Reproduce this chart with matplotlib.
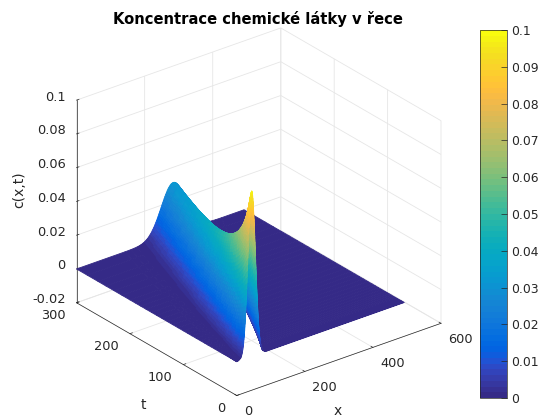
import numpy as np
import matplotlib
matplotlib.use("Agg")
import matplotlib.pyplot as plt
from matplotlib.colors import ListedColormap, Normalize
from matplotlib.cm import ScalarMappable
from mpl_toolkits.mplot3d import proj3d

# values: one row per time
t_rows = [0, 1, 2, 3, 4, 5, 6, 8, 10, 12, 14, 17, 20, 24, 28, 32, 36, 42, 48, 54, 60, 68, 76, 84, 92,
          100, 110, 120, 130, 140, 150, 160, 170, 180, 190, 200, 215, 230, 245, 260, 280, 300]
ridge_x = [44, 44.8, 45.6, 46.4, 47.2, 48, 48.8, 50.4, 52, 53.6, 55.2, 57.6, 60, 63.2, 66.4, 69.6, 72.8,
           77.6, 82.4, 87.2, 92, 98.4, 104.8, 111.2, 117.6, 124, 132, 140, 148, 156, 164, 172, 180, 188,
           196, 204, 216, 228, 240, 252, 268, 284]
ridge_c = [0.098, 0.097, 0.096, 0.095, 0.094, 0.093, 0.0918, 0.0894, 0.0873, 0.0853, 0.0834, 0.0808,
           0.0784, 0.0756, 0.073, 0.0707, 0.0686, 0.0658, 0.0632, 0.061, 0.059, 0.0566, 0.0544, 0.0525,
           0.0508, 0.0492, 0.0475, 0.0459, 0.0444, 0.0431, 0.0419, 0.0408, 0.0398, 0.0389, 0.038, 0.0371,
           0.036, 0.035, 0.034, 0.0331, 0.032, 0.031]
ridge_w = [11, 11.2, 11.3, 11.5, 11.7, 11.8, 12, 12.3, 12.6, 12.9, 13.2, 13.6, 14, 14.6, 15.1, 15.6, 16,
           16.7, 17.4, 18, 18.7, 19.4, 20.2, 20.9, 21.7, 22.3, 23.2, 24, 24.8, 25.5, 26.2, 26.9, 27.6,
           28.3, 29, 29.6, 30.6, 31.5, 32.4, 33.2, 34.3, 35.4]

# half of the pulse profile, in widths from the crest
half_off = [0, 0.0625, 0.125, 0.1875, 0.25, 0.3125, 0.375, 0.4375, 0.5, 0.5625, 0.625, 0.6875, 0.75,
            0.8125, 0.875, 0.9375, 1, 1.0625, 1.125, 1.1875, 1.25, 1.3125, 1.375, 1.4375, 1.5, 1.5625,
            1.625, 1.6875, 1.75, 1.8125, 1.875, 1.9375, 2, 2.0625, 2.125, 2.1875, 2.25, 2.3125, 2.375,
            2.4375, 2.5, 2.5625, 2.625, 2.6875, 2.75, 2.8125, 2.875, 2.9375, 3, 3.5, 4]
half_c = [1, 0.998, 0.9922, 0.9826, 0.9692, 0.9523, 0.9321, 0.9087, 0.8825, 0.8537, 0.8226, 0.7895, 0.7548,
          0.7188, 0.6819, 0.6444, 0.6065, 0.5687, 0.5311, 0.4941, 0.4578, 0.4226, 0.3883, 0.3559, 0.3247,
          0.295, 0.2671, 0.2408, 0.2163, 0.1935, 0.1724, 0.1531, 0.1353, 0.1192, 0.1046, 0.0914, 0.0796,
          0.069, 0.0596, 0.0513, 0.0439, 0.0375, 0.0319, 0.027, 0.0228, 0.0192, 0.016, 0.0134, 0.0111,
          0.0022, 0]

x_ticks = [0, 200, 400, 600]
t_ticks = [0, 100, 200, 300]
z_ticks = [-0.02, 0, 0.02, 0.04, 0.06, 0.08, 0.1]
z_labels = ['-0.02', '0', '0.02', '0.04', '0.06', '0.08', '0.1']
cb_ticks = [0, 0.01, 0.02, 0.03, 0.04, 0.05, 0.06, 0.07, 0.08, 0.09, 0.1]
cb_labels = ['0', '0.01', '0.02', '0.03', '0.04', '0.05', '0.06', '0.07', '0.08', '0.09', '0.1']
x_end = 492

parula = ListedColormap([
    (0.2081, 0.1663, 0.5292), (0.2116, 0.1898, 0.5777), (0.2123, 0.2138, 0.6270), (0.2081, 0.2386, 0.6771),
    (0.1959, 0.2645, 0.7279), (0.1707, 0.2919, 0.7792), (0.1253, 0.3242, 0.8303), (0.0591, 0.3598, 0.8683),
    (0.0117, 0.3875, 0.8820), (0.0060, 0.4086, 0.8828), (0.0165, 0.4266, 0.8786), (0.0329, 0.4430, 0.8720),
    (0.0498, 0.4586, 0.8641), (0.0629, 0.4737, 0.8554), (0.0723, 0.4887, 0.8467), (0.0779, 0.5040, 0.8384),
    (0.0793, 0.5200, 0.8312), (0.0749, 0.5375, 0.8263), (0.0641, 0.5570, 0.8240), (0.0488, 0.5772, 0.8228),
    (0.0343, 0.5966, 0.8199), (0.0265, 0.6137, 0.8135), (0.0239, 0.6287, 0.8038), (0.0231, 0.6418, 0.7913),
    (0.0228, 0.6535, 0.7768), (0.0267, 0.6642, 0.7607), (0.0384, 0.6743, 0.7436), (0.0590, 0.6838, 0.7254),
    (0.0843, 0.6928, 0.7062), (0.1133, 0.7015, 0.6859), (0.1453, 0.7098, 0.6646), (0.1801, 0.7177, 0.6424),
    (0.2178, 0.7250, 0.6193), (0.2586, 0.7317, 0.5954), (0.3022, 0.7376, 0.5712), (0.3482, 0.7424, 0.5473),
    (0.3953, 0.7459, 0.5244), (0.4420, 0.7481, 0.5033), (0.4871, 0.7491, 0.4840), (0.5300, 0.7491, 0.4661),
    (0.5709, 0.7485, 0.4494), (0.6099, 0.7473, 0.4337), (0.6473, 0.7456, 0.4188), (0.6834, 0.7435, 0.4044),
    (0.7184, 0.7411, 0.3905), (0.7525, 0.7384, 0.3768), (0.7858, 0.7356, 0.3633), (0.8185, 0.7327, 0.3498),
    (0.8507, 0.7299, 0.3360), (0.8824, 0.7274, 0.3217), (0.9139, 0.7258, 0.3063), (0.9450, 0.7261, 0.2886),
    (0.9739, 0.7314, 0.2666), (0.9938, 0.7455, 0.2403), (0.9990, 0.7653, 0.2164), (0.9955, 0.7861, 0.1967),
    (0.9880, 0.8066, 0.1794), (0.9789, 0.8271, 0.1633), (0.9697, 0.8481, 0.1475), (0.9626, 0.8705, 0.1309),
    (0.9589, 0.8949, 0.1132), (0.9598, 0.9218, 0.0948), (0.9661, 0.9514, 0.0755), (0.9763, 0.9831, 0.0538),
])
dark = (0.15, 0.15, 0.15)
light = (0.9, 0.9, 0.9)

# mesh follows the ridge, flat floor out to the river ends
off = np.concatenate([-np.array(half_off[:0:-1]), half_off])
prof = np.concatenate([[0], half_c[:0:-1], half_c, [0]])
xx = np.array(ridge_x)[:, None] + np.array(ridge_w)[:, None] * off[None, :]
xx = np.clip(xx, 0, x_end)
xx = np.hstack([np.zeros((len(t_rows), 1)), xx, np.full((len(t_rows), 1), x_end)])
tt = np.repeat(np.array(t_rows)[:, None], xx.shape[1], axis=1)
cc = np.array(ridge_c)[:, None] * prof[None, :]

fig = plt.figure(figsize=(5.39, 4.17), dpi=100)
ax = fig.add_axes([58.5 / 539, 1 - 412 / 417, 390 / 539, 390 / 417], projection='3d', proj_type='ortho')
ax.view_init(elev=26.9, azim=-128)
ax.set_box_aspect((259, 260, 227), zoom=1.075)
ax.patch.set_alpha(0)

norm = Normalize(0, 0.1)
surf = ax.plot_surface(xx, tt, cc, cmap=parula, norm=norm, rstride=1, cstride=1,
                       shade=False, linewidth=0.6, antialiased=True)
surf.set_edgecolor('face')

ax.set_xlim(0, 600, view_margin=0)
ax.set_ylim(0, 300, view_margin=0)
ax.set_zlim(-0.02, 0.1, view_margin=0)
ax.set_xticks(x_ticks)
ax.set_yticks(t_ticks)
ax.set_zticks(z_ticks)
ax.set_xticklabels([])
ax.set_yticklabels([])
ax.set_zticklabels([])
ax.tick_params(colors=dark, pad=0)

for axis in (ax.xaxis, ax.yaxis, ax.zaxis):
    axis.set_pane_color((1, 1, 1, 0))
    axis.pane.set_edgecolor(light)
    axis.line.set_color(dark)
    axis.line.set_linewidth(0.5)
    axis._axinfo['grid'].update(color=light, linewidth=0.6)
    axis._axinfo['tick'].update(inward_factor=0.0, outward_factor=0.15, linewidth={True: 0.5, False: 0.5})


def axis_text(x, y, z, s, dx, dy, ha='center', size=9.3, rotation=0):
    # text put next to its spot on the 3d axis, dx, dy in pixels
    px, py, _ = proj3d.proj_transform(x, y, z, ax.get_proj())
    ax.annotate(s, xy=(px, py), xycoords='data', xytext=(dx, dy), textcoords='offset pixels',
                ha=ha, va='center', fontsize=size, color=dark, rotation=rotation, annotation_clip=False)


for v in x_ticks:
    axis_text(v, 0, -0.02, str(v), 7, -16, 'left')
for v in t_ticks:
    axis_text(0, v, -0.02, str(v), -11, -13, 'right')
for v, s in zip(z_ticks, z_labels):
    axis_text(0, 300, v, s, -11, 3, 'right')

axis_text(300, 0, -0.02, 'x', -1, -52, size=10)
axis_text(0, 150, -0.02, 't', -13, -56, size=10)
axis_text(0, 300, 0.04, 'c(x,t)', -57, 12, size=10, rotation=90)

fig.text(257.5 / 539, 1 - 19 / 417, 'Koncentrace chemické látky v řece', fontsize=10.6, fontweight='bold',
         ha='center', va='center', color='black')

cax = fig.add_axes([480 / 539, 1 - 398 / 417, 27 / 539, 368 / 417])
cb = fig.colorbar(ScalarMappable(norm=norm, cmap=parula), cax=cax)
cb.set_ticks(cb_ticks)
cb.set_ticklabels(cb_labels)
cb.ax.tick_params(direction='in', length=4, width=0.5, labelsize=8.9, color=dark, labelcolor=dark, pad=3)
cb.outline.set_edgecolor(dark)
cb.outline.set_linewidth(0.5)

fig.savefig('out.png', dpi=100)
